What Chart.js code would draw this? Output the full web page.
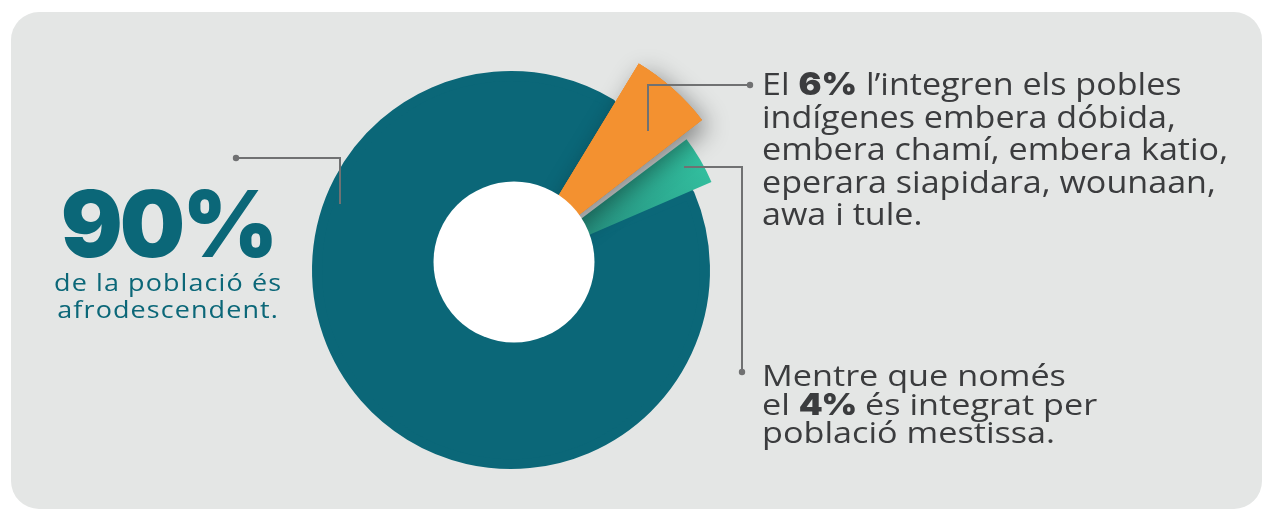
<!DOCTYPE html>
<html>
<head>
<meta charset="utf-8">
<script src="https://cdn.jsdelivr.net/npm/chart.js@4.4.1/dist/chart.umd.min.js"></script>
<style>
  html, body { margin: 0; padding: 0; background: #ffffff; width: 1262px; height: 510px; overflow: hidden; }
  #card { position: absolute; left: 11px; top: 12px; width: 1251px; height: 497px; background: #e4e6e5; border-radius: 28px; }
  #c { position: absolute; left: 0; top: 0; }
  .t { position: absolute; white-space: nowrap; }
  #big { left: 0; width: 336px; text-align: center; top: 178px; font-family: "Inter", sans-serif; font-weight: 900; font-size: 92px; line-height: 92px; color: #0b6778; letter-spacing: -3px; }
  #sub { left: 0; width: 336px; text-align: center; top: 268px; font-family: "Open Sans", sans-serif; font-weight: 400; font-size: 24.5px; line-height: 27px; color: #0b6778; letter-spacing: 1px; transform: scaleX(1.1); transform-origin: 167px 0; }
  #r1 { left: 762px; top: 67px; font-family: "Open Sans", sans-serif; font-size: 31px; line-height: 32.2px; color: #3b3c3e; transform: scaleX(1.1); transform-origin: 0 0; }
  #r2 { left: 762px; top: 361px; font-family: "Open Sans", sans-serif; font-size: 30px; line-height: 28.5px; color: #3b3c3e; transform: scaleX(1.14); transform-origin: 0 0; }
  #r2 b { letter-spacing: -1px; }
  b { font-family: "Inter", sans-serif; font-weight: 900; }
</style>
</head>
<body>
<div id="card"></div>
<canvas id="c" width="1262" height="510"></canvas>
<div class="t" id="big">90%</div>
<div class="t" id="sub">de la població és<br>afrodescendent.</div>
<div class="t" id="r1">El <b>6%</b> l’integren els pobles<br>indígenes embera dóbida,<br>embera chamí, embera katio,<br>eperara siapidara, wounaan,<br>awa i tule.</div>
<div class="t" id="r2">Mentre que només<br>el <b>4%</b> és integrat per<br>població mestissa.</div>
<script>
// ---- data ----
const categories = ['Afrodescendent', 'Pobles indígenes', 'Població mestissa'];
const values = [90, 6, 4];

// ---- style ----
const colors = ['#0b6778', '#f39130', null];
const sliceRadius = [194, 232, 208];   // outer radius per slice (px), teal border adds 5
const explode = [0, 11, 11];           // outward shift per slice (px)

function greenGradient(chart) {
  const area = chart.chartArea;
  if (!area) return '#2fb99a';
  const cx = (area.left + area.right) / 2, cy = (area.top + area.bottom) / 2;
  const a = (60 - 90) * Math.PI / 180;
  const g = chart.ctx.createLinearGradient(cx, cy, cx + 210 * Math.cos(a), cy + 210 * Math.sin(a));
  g.addColorStop(0.38, '#279482');
  g.addColorStop(1, '#32be9e');
  return g;
}

const slicePlugin = {
  id: 'sliceStyle',
  afterDatasetsUpdate(chart) {
    const meta = chart.getDatasetMeta(0);
    meta.data.forEach((el, i) => {
      const circ = el.endAngle - el.startAngle;
      const fix = 1 - Math.sin(Math.min(Math.PI, circ));
      el.outerRadius = sliceRadius[i] - explode[i] * fix;
    });
  },
  afterDatasetsDraw(chart) {
    const ctx = chart.ctx;
    const meta = chart.getDatasetMeta(0);
    // orange slice with drop shadow, over the green one
    ctx.save();
    ctx.shadowColor = 'rgba(0,0,0,0.42)';
    ctx.shadowBlur = 24;
    ctx.shadowOffsetX = 6;
    ctx.shadowOffsetY = 7;
    meta.data[1].draw(ctx);
    ctx.restore();
    meta.data[1].draw(ctx);
    // white hole
    const el = meta.data[0];
    ctx.save();
    ctx.fillStyle = '#ffffff';
    ctx.beginPath();
    ctx.arc(el.x + 3, el.y - 8, 80.5, 0, Math.PI * 2);
    ctx.fill();
    ctx.restore();
  },
  afterDraw(chart) {
    const ctx = chart.ctx;
    ctx.save();
    ctx.strokeStyle = '#707172';
    ctx.fillStyle = '#707172';
    ctx.lineWidth = 2;
    const paths = [
      [[236, 158], [340, 158], [340, 204]],
      [[750, 85], [648, 85], [648, 131]],
      [[742, 372], [742, 167], [684, 167]]
    ];
    paths.forEach(p => {
      ctx.beginPath();
      ctx.moveTo(p[0][0], p[0][1]);
      for (let k = 1; k < p.length; k++) ctx.lineTo(p[k][0], p[k][1]);
      ctx.stroke();
      ctx.beginPath();
      ctx.arc(p[0][0], p[0][1], 3.2, 0, Math.PI * 2);
      ctx.fill();
    });
    ctx.restore();
  }
};

new Chart(document.getElementById('c'), {
  type: 'pie',
  data: {
    labels: categories,
    datasets: [{
      data: values,
      backgroundColor: (ctx) => ctx.dataIndex === 2 ? greenGradient(ctx.chart) : colors[ctx.dataIndex],
      borderColor: colors[0],
      borderWidth: [10, 0, 0],
      borderJoinStyle: 'round',
      offset: explode.map(v => v * 4),
      radius: 199,
      rotation: 67
    }]
  },
  options: {
    responsive: false,
    animation: false,
    layout: { padding: { left: 10, right: 250, top: 30, bottom: 0 } },
    plugins: { legend: { display: false }, tooltip: { enabled: false } },
    events: []
  },
  plugins: [slicePlugin]
});
</script>
</body>
</html>
